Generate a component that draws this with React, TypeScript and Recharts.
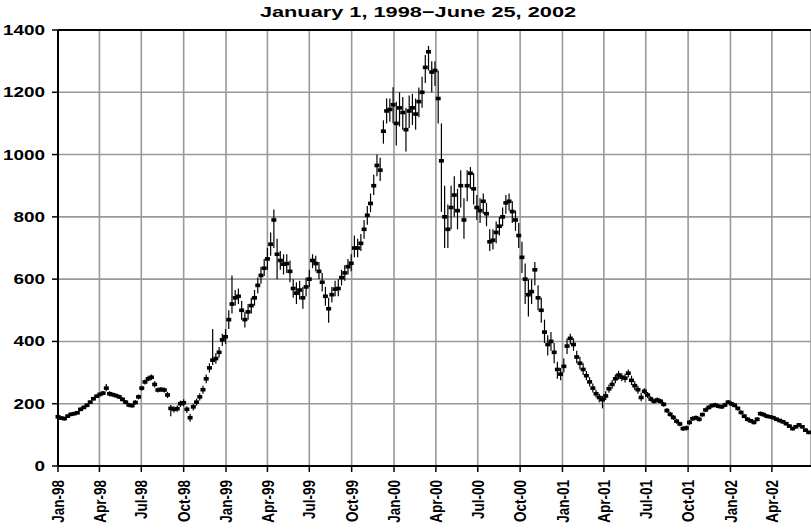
import { CartesianGrid, ComposedChart, ErrorBar, ReferenceLine, Scatter, XAxis, YAxis } from 'recharts'

// weekly readings (close, high, low), quarter by quarter
const close1998 = [
  158, 154, 152, 160, 166, 168, 171, 182, 188, 195, 205, 216, 224,
  230, 234, 250, 232, 229, 226, 222, 214, 205, 196, 194, 204, 222,
  250, 270, 280, 285, 262, 244, 246, 244, 228, 185, 182, 184, 200,
  203, 182, 155, 190, 205, 222, 245, 280, 315, 340, 345, 365, 405,
]
const high1998 = [
  164, 160, 158, 166, 172, 174, 177, 188, 194, 201, 211, 222, 230,
  237, 241, 263, 240, 236, 233, 229, 221, 212, 203, 201, 212, 230,
  258, 278, 290, 294, 272, 252, 254, 252, 238, 196, 192, 194, 210,
  214, 192, 168, 200, 216, 234, 258, 294, 330, 440, 362, 382, 425,
]
const low1998 = [
  151, 148, 146, 154, 160, 162, 165, 176, 182, 189, 199, 210, 218,
  223, 227, 240, 224, 222, 219, 215, 207, 198, 189, 187, 197, 214,
  242, 262, 272, 276, 252, 236, 238, 236, 218, 160, 172, 174, 190,
  192, 170, 142, 178, 194, 210, 232, 266, 300, 324, 328, 348, 385,
]

const close1999 = [
  415, 470, 520, 540, 545, 500, 470, 495, 515, 540, 580, 612, 635,
  665, 712, 790, 680, 660, 648, 650, 625, 570, 555, 565, 540, 575,
  600, 660, 650, 625, 590, 545, 505, 550, 568, 570, 605, 620, 640,
  651, 700, 700, 715, 760, 805, 843, 900, 965, 950, 1075, 1140, 1145,
]
const high1999 = [
  440, 500, 612, 565, 570, 530, 495, 520, 540, 565, 605, 640, 665,
  700, 750, 824, 730, 690, 680, 680, 660, 600, 590, 595, 575, 605,
  630, 680, 675, 655, 620, 575, 540, 575, 595, 600, 630, 645, 665,
  680, 740, 730, 745, 790, 835, 875, 935, 1000, 990, 1110, 1180, 1180,
]
const low1999 = [
  392, 440, 490, 515, 520, 470, 445, 470, 490, 515, 555, 585, 610,
  630, 675, 700, 600, 630, 615, 620, 590, 540, 520, 535, 505, 545,
  575, 635, 625, 600, 560, 515, 460, 525, 545, 545, 580, 595, 615,
  625, 670, 670, 690, 730, 775, 815, 870, 930, 915, 1035, 1100, 1105,
]

const close2000 = [
  1160, 1100, 1150, 1135, 1080, 1140, 1150, 1130, 1170, 1200, 1280, 1330, 1265,
  1270, 1180, 980, 800, 760, 830, 870, 820, 900, 790, 900, 940, 890,
  830, 820, 850, 810, 720, 725, 750, 770, 800, 845, 850, 817, 790,
  740, 670, 600, 550, 560, 630, 540, 500, 430, 390, 400, 365, 310,
]
const high2000 = [
  1216, 1170, 1200, 1185, 1150, 1190, 1195, 1180, 1215, 1250, 1320, 1349, 1300,
  1300, 1270, 1100, 900, 840, 900, 930, 890, 950, 860, 950, 960, 940,
  870, 860, 875, 845, 760, 760, 785, 800, 830, 870, 875, 850, 820,
  780, 720, 650, 600, 600, 655, 580, 540, 470, 420, 430, 395, 335,
]
const low2000 = [
  1100, 1029, 1090, 1080, 1010, 1085, 1095, 1080, 1120, 1150, 1230, 1270, 1200,
  1220, 1100, 816, 700, 700, 760, 800, 760, 830, 730, 850, 890, 840,
  790, 780, 810, 770, 690, 695, 715, 740, 770, 810, 820, 780, 755,
  700, 620, 520, 480, 520, 580, 500, 460, 395, 355, 370, 330, 280,
]

const close2001 = [
  295, 320, 385, 410, 390, 350, 330, 310, 290, 270, 250, 232, 220,
  213, 225, 248, 262, 280, 292, 285, 282, 298, 275, 258, 245, 220,
  240, 228, 215, 208, 212, 208, 198, 178, 166, 156, 144, 135, 120,
  122, 140, 152, 155, 150, 165, 180, 188, 194, 196, 192, 190, 196,
]
const high2001 = [
  315, 345, 410, 425, 410, 370, 350, 330, 305, 285, 265, 245, 232,
  225, 240, 262, 276, 294, 305, 298, 296, 310, 290, 272, 258, 235,
  250, 238, 224, 216, 220, 216, 206, 186, 174, 164, 152, 142, 128,
  130, 148, 160, 162, 158, 172, 188, 196, 201, 203, 199, 197, 203,
]
const low2001 = [
  275, 300, 360, 390, 370, 330, 310, 292, 275, 255, 236, 220, 205,
  185, 212, 235, 248, 266, 278, 272, 268, 284, 260, 244, 232, 208,
  230, 218, 206, 200, 204, 200, 190, 170, 158, 148, 136, 128, 112,
  114, 132, 145, 148, 143, 158, 173, 181, 187, 189, 185, 183, 189,
]

const close2002 = [
  205, 200, 195, 185, 172, 160, 150, 145, 140, 150, 168, 165, 160,
  158, 155, 150, 146, 142, 136, 128, 120, 126, 132, 126, 115, 108,
]
const high2002 = [
  212, 207, 202, 192, 179, 167, 157, 152, 147, 157, 175, 172, 167,
  164, 161, 156, 152, 148, 142, 134, 126, 132, 138, 132, 121, 114,
]
const low2002 = [
  198, 193, 188, 178, 165, 153, 143, 138, 133, 143, 161, 158, 153,
  152, 149, 144, 140, 136, 130, 122, 114, 120, 126, 120, 109, 102,
]

// days since Jan 1, 1998
const quarterDays = [0, 90, 181, 273, 365, 455, 546, 638, 730, 821, 912, 1004, 1096, 1186, 1277, 1369, 1461, 1551]
const quarterLabels = [
  'Jan-98', 'Apr-98', 'Jul-98', 'Oct-98', 'Jan-99', 'Apr-99', 'Jul-99', 'Oct-99', 'Jan-00',
  'Apr-00', 'Jul-00', 'Oct-00', 'Jan-01', 'Apr-01', 'Jul-01', 'Oct-01', 'Jan-02', 'Apr-02',
]
const lastDay = 1636
const yTicks = [0, 200, 400, 600, 800, 1000, 1200, 1400]

const closes = [...close1998, ...close1999, ...close2000, ...close2001, ...close2002]
const highs = [...high1998, ...high1999, ...high2000, ...high2001, ...high2002]
const lows = [...low1998, ...low1999, ...low2000, ...low2001, ...low2002]

const rows = closes.map((c, i) => ({
  day: i * 7,
  close: c,
  range: [c - lows[i], highs[i] - c],
}))

const font = '"Liberation Sans", Arial, sans-serif'

// close tick: short horizontal dash across the high-low line
function CloseMark(props: any) {
  const { cx, cy } = props
  if (cx == null || cy == null) return null
  return <rect x={cx - 2.5} y={cy - 1.8} width={5} height={3.6} fill="#000" />
}

function QuarterTick(props: any) {
  const { x, y, payload } = props
  const idx = quarterDays.indexOf(payload.value)
  return (
    <g transform={`translate(${x},${y}) scale(1.25,1)`}>
      <text
        transform="rotate(-90)"
        textAnchor="end"
        dy="0.36em"
        fontSize={13.5}
        fontWeight="bold"
        fontFamily={font}
        fill="#000"
      >
        {quarterLabels[idx]}
      </text>
    </g>
  )
}

function ValueTick(props: any) {
  const { x, y, payload } = props
  return (
    <g transform={`translate(${x},${y}) scale(1.35,1)`}>
      <text textAnchor="end" dy="0.36em" fontSize={14} fontWeight="bold" fontFamily={font} fill="#000">
        {payload.value}
      </text>
    </g>
  )
}

export default function App() {
  return (
    <div style={{ position: 'absolute', left: 0, top: 0, width: 811, height: 529, background: '#fff' }}>
      <div
        style={{
          position: 'absolute',
          left: 218,
          width: 400,
          top: 3,
          textAlign: 'center',
          fontFamily: font,
          fontWeight: 'bold',
          fontSize: 15,
          transform: 'scaleX(1.45)',
          transformOrigin: 'center',
          whiteSpace: 'nowrap',
        }}
      >
        January 1, 1998−June 25, 2002
      </div>
      <ComposedChart width={811} height={529} data={rows} margin={{ top: 30, right: 0, bottom: 0, left: 0 }}>
        <CartesianGrid stroke="#999" strokeWidth={1.6} />
        <XAxis
          dataKey="day"
          type="number"
          domain={[0, lastDay]}
          ticks={quarterDays}
          interval={0}
          height={63}
          tick={<QuarterTick />}
          tickSize={6}
          tickMargin={8}
          axisLine={{ stroke: '#000', strokeWidth: 2 }}
          tickLine={{ stroke: '#000', strokeWidth: 1.5 }}
        />
        <YAxis
          type="number"
          domain={[0, 1400]}
          ticks={yTicks}
          interval={0}
          width={58}
          tickSize={6}
          tickMargin={7}
          axisLine={{ stroke: '#000', strokeWidth: 2 }}
          tickLine={{ stroke: '#000', strokeWidth: 1.5 }}
          tick={<ValueTick />}
        />
        <ReferenceLine y={1400} stroke="#000" strokeWidth={2} />
        <Scatter dataKey="close" shape={<CloseMark />} isAnimationActive={false}>
          <ErrorBar dataKey="range" direction="y" width={0} stroke="#000" strokeWidth={1.2} />
        </Scatter>
      </ComposedChart>
    </div>
  )
}
